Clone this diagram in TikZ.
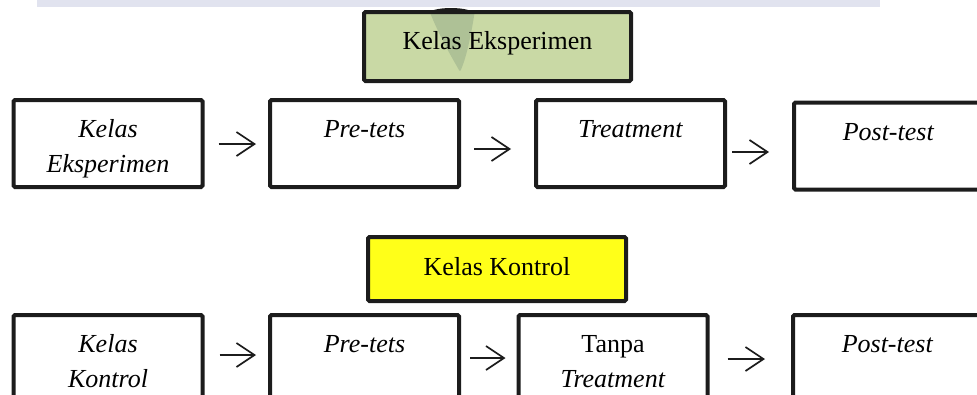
\documentclass[tikz,border=0pt]{standalone}
\usepackage{fontspec}
\setmainfont{Liberation Serif}
\usetikzlibrary{arrows.meta}

\definecolor{hijau}{HTML}{C9D9A5}
\definecolor{kuning}{HTML}{FFFF19}
\definecolor{garis}{HTML}{1C1C1C}
\definecolor{pita}{HTML}{E1E3EF}
\definecolor{bayang}{HTML}{AEC196}

\newcommand{\duabaris}[2]{\begin{tabular}[t]{@{}c@{}}#1\\#2\end{tabular}}

\tikzset{
  kotak/.style={draw=garis, line width=4pt, rounded corners=1.5pt, minimum width=189pt,
    minimum height=87pt, inner sep=0pt, text height=18pt, text depth=30pt,
    font=\fontsize{26}{35}\selectfont},
  judul/.style={draw=garis, line width=4pt, rounded corners=1.5pt, inner sep=0pt,
    text height=18pt, font=\fontsize{26}{35}\selectfont},
  panah/.style={-{Straight Barb[length=18pt,width=24pt]}, line width=1.7pt, draw=garis}
}

\begin{document}
\begin{tikzpicture}[x=1pt,y=-1pt]
        \useasboundingbox (0,0) rectangle (977,394);
        \clip (0,0) rectangle (977,394);
        \fill[pita] (37,0) rectangle (880,6.5);
        \fill[garis] (451,14) ellipse (23pt and 6pt);
        % judul kelas
        \node[judul, fill=hijau, minimum width=267pt, minimum height=69pt, text depth=13pt,
          path picture={\fill[bayang] ([xshift=-70pt,yshift=40pt]path picture bounding box.center)
            -- ([xshift=-22pt,yshift=40pt]path picture bounding box.center)
            .. controls ([xshift=-28pt,yshift=0pt]path picture bounding box.center)
            and ([xshift=-33pt,yshift=-15pt]path picture bounding box.center)
            .. ([xshift=-37.5pt,yshift=-25.5pt]path picture bounding box.center)
            .. controls ([xshift=-43pt,yshift=-15pt]path picture bounding box.center)
            and ([xshift=-56pt,yshift=5pt]path picture bounding box.center)
            .. cycle;}] (judulE) at (497.5,46.5) {Kelas Eksperimen};
        \node[judul, fill=kuning, minimum width=258pt, minimum height=64pt, text depth=6pt]
          (judulK) at (497,269) {Kelas Kontrol};
        % kelas eksperimen
        \node[kotak] (kelasE) at (108,143.5) {\duabaris{\textit{Kelas}}{\textit{Eksperimen}}};
        \node[kotak] (pretesE) at (364.5,143.5) {\textit{Pre-tets}};
        \node[kotak] (treatE) at (630.5,143.5) {\textit{Treatment}};
        \node[kotak] (postE) at (888.5,146) {\textit{Post-test}};
        \draw[panah, shorten <=14pt, shorten >=12pt] ([yshift=-0.5pt]kelasE.east) -- ([yshift=-0.5pt]pretesE.west);
        \draw[panah, shorten <=13pt, shorten >=23pt] ([yshift=-5.5pt]pretesE.east) -- ([yshift=-5.5pt]treatE.west);
        \draw[panah, shorten <=5pt, shorten >=23pt] ([yshift=-8.5pt]treatE.east) -- ([yshift=-6pt]postE.west);
        % kelas kontrol
        \node[kotak] (kelasK) at (108,358.5) {\duabaris{\textit{Kelas}}{\textit{Kontrol}}};
        \node[kotak] (pretesK) at (364.5,358.5) {\textit{Pre-tets}};
        \node[kotak] (tanpaK) at (613,358.5) {\duabaris{Tanpa}{\textit{Treatment}}};
        \node[kotak] (postK) at (887.5,358.5) {\textit{Post-test}};
        \draw[panah, shorten <=15pt, shorten >=12pt] ([yshift=3.5pt]kelasK.east) -- ([yshift=3.5pt]pretesK.west);
        \draw[panah, shorten <=9pt, shorten >=11pt] ([yshift=0.5pt]pretesK.east) -- ([yshift=0.5pt]tanpaK.west);
        \draw[panah, shorten <=18pt, shorten >=26pt] ([yshift=-0.5pt]tanpaK.east) -- ([yshift=-0.5pt]postK.west);
    \end{tikzpicture}
\end{document}
